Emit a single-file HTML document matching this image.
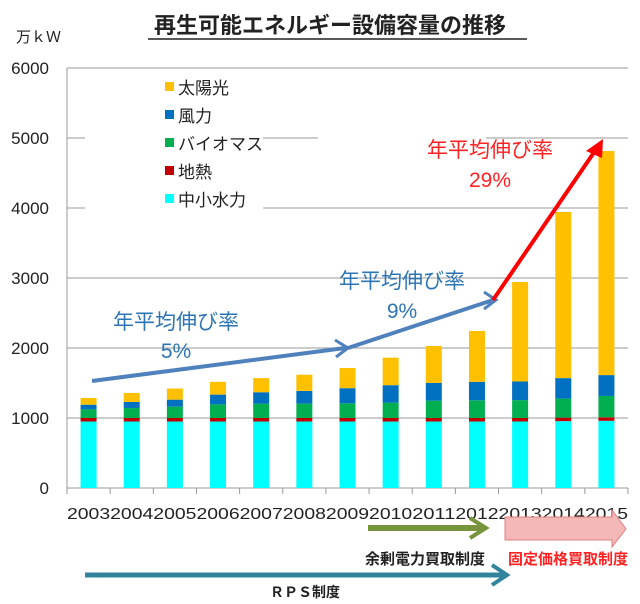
<!DOCTYPE html>
<html><head><meta charset="utf-8"><style>
body{margin:0;background:#fff;}
svg text{font-family:"Liberation Sans","Noto Sans CJK JP",sans-serif;}
</style></head><body>
<svg width="640" height="599" viewBox="0 0 640 599" id="c">
<text x="330" y="33" text-anchor="middle" font-size="22" font-weight="bold" fill="#222">再生可能エネルギー設備容量の推移</text>
<line x1="148" y1="39" x2="527" y2="39" stroke="#222" stroke-width="1.5"/>
<text x="16" y="42" font-size="15" fill="#222">万ｋＷ</text>
<g id="grid"></g><g id="bars"></g>
<rect x="85" y="76" width="178" height="136" fill="#fff"/>
<rect x="318" y="130" width="168" height="62" fill="#fff"/>
<g id="legend"></g>
<g id="x"></g>
<line x1="92" y1="381" x2="345" y2="348" stroke="#4f81bd" stroke-width="4"/>
<polyline points="335,340 348,348 336,357" fill="none" stroke="#4f81bd" stroke-width="3"/>
<line x1="348" y1="348" x2="493" y2="300" stroke="#4f81bd" stroke-width="4"/>
<polyline points="484,292 496,300 484,309" fill="none" stroke="#4f81bd" stroke-width="3"/>
<line x1="493" y1="300" x2="597" y2="148" stroke="#f00" stroke-width="4"/>
<polygon points="603,139 586,151 602,158" fill="#f00"/>
<text x="176" y="329" text-anchor="middle" font-size="21" fill="#2e75b6">年平均伸び率</text>
<text x="176" y="358" text-anchor="middle" font-size="21" fill="#2e75b6">5%</text>
<text x="402" y="288" text-anchor="middle" font-size="21" fill="#2e75b6">年平均伸び率</text>
<text x="402" y="318" text-anchor="middle" font-size="21" fill="#2e75b6">9%</text>
<text x="490" y="157" text-anchor="middle" font-size="21" fill="#f22">年平均伸び率</text>
<text x="490" y="187" text-anchor="middle" font-size="21" fill="#f22">29%</text>
<line x1="368" y1="528" x2="485" y2="528" stroke="#77933c" stroke-width="6"/>
<polyline points="470,518 486,528 470,538" fill="none" stroke="#77933c" stroke-width="4"/>
<polygon points="505,517 612,517 612,510 626,529 612,547 612,540 505,540" fill="#f4b8b8" stroke="#e08080"/>
<text x="485" y="564" text-anchor="end" font-size="15" font-weight="bold" fill="#222">余剰電力買取制度</text>
<text x="568" y="564" text-anchor="middle" font-size="15" font-weight="bold" fill="#f22">固定価格買取制度</text>
<line x1="85" y1="575" x2="505" y2="575" stroke="#31849b" stroke-width="5"/>
<polyline points="492,565 507,575 492,585" fill="none" stroke="#31849b" stroke-width="4"/>
<text x="305" y="597" text-anchor="middle" font-size="14" font-weight="bold" fill="#222">ＲＰＳ制度</text>
</svg>
<script>
const years=["2003","2004","2005","2006","2007","2008","2009","2010","2011","2012","2013","2014","2015"];
const hydro=[950,950,950,950,950,950,950,950,950,950,950,955,960];
const geo=[50,50,50,50,50,50,50,50,50,50,50,50,50];
const biomass=[123,142,162,195,205,205,210,219,248,253,255,272,305];
const wind=[67,87,100,139,163,182,216,250,254,264,267,293,298];
const solar=[96,129,159,183,202,231,288,393,527,726,1421,2373,3201];
const yTicks=[0,1000,2000,3000,4000,5000,6000];
const x0=67,x1=628,y0=488,pxPer=0.07;
const ns="http://www.w3.org/2000/svg";
function y(v){return y0-v*pxPer;}
const band=(x1-x0)/years.length;
function xc(i){return x0+band*(i+0.5);}
function mk(t,a,p){const e=document.createElementNS(ns,t);for(const k in a)e.setAttribute(k,a[k]);p.appendChild(e);return e;}
const g=document.getElementById('grid');
yTicks.forEach(v=>{
 const l=mk('line',{x1:x0,x2:x1,y1:y(v),y2:y(v),stroke:'#999','stroke-width':1},g);
 
 
 const t=mk('text',{x:49,y:y(v)+6,'text-anchor':'end','font-size':17,fill:'#222'},g);
 t.textContent=v;
 
 
});
mk('line',{x1:x0,x2:x0,y1:y(6000),y2:y0,stroke:'#999'},g);
const series=[[hydro,'#00ffff','hydro'],[geo,'#c00000','geothermal'],[biomass,'#00b050','biomass'],[wind,'#0070c0','wind'],[solar,'#ffc000','solar']];
const b=document.getElementById('bars');
years.forEach((yr,i)=>{
 let acc=0;
 series.forEach(([arr,col,nm])=>{
  const v=arr[i];
  const r=mk('rect',{x:xc(i)-8,y:y(acc+v),width:16,height:v*pxPer,fill:col},b);
  
  
  acc+=v;
 });
 mk('line',{x1:x0+band*i,x2:x0+band*i,y1:y0,y2:y0+6,stroke:'#999'},b);
 const t=mk('text',{x:xc(i),y:519,'text-anchor':'middle','font-size':16,fill:'#222',textLength:band,lengthAdjust:'spacingAndGlyphs'},b);
 t.textContent=yr;
 
 
});
mk('line',{x1:x1,x2:x1,y1:y0,y2:y0+6,stroke:'#999'},b);
const lg=document.getElementById('legend');
const legendItems=[['太陽光','#ffc000'],['風力','#0070c0'],['バイオマス','#00b050'],['地熱','#c00000'],['中小水力','#00ffff']];
legendItems.forEach(([lab,col],i)=>{
 const yy=88+i*28;
 const gg=mk('g',{},lg);
 
 
 mk('rect',{x:165,y:yy-6,width:9,height:9,fill:col},gg);
 const t=mk('text',{x:178,y:yy+6,'font-size':17,fill:'#222'},gg);
 t.textContent=lab;
});
</script>
</body></html>
